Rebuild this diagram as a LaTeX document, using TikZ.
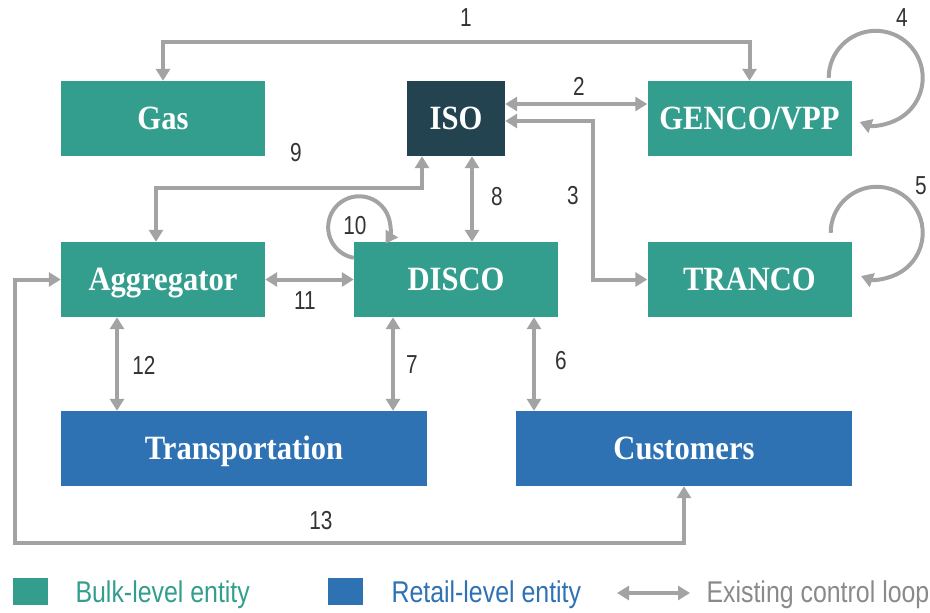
\documentclass[tikz,border=0pt]{standalone}
\usepackage{fontspec}
\usepackage{tikz}
\usepackage{xcolor}
\usetikzlibrary{arrows.meta}

\setmainfont{Liberation Serif}
\newfontfamily\boxfont[FakeStretch=0.9]{Liberation Serif}
\newfontfamily\numfont[FakeStretch=0.8]{Liberation Sans}
\newfontfamily\keyfont[FakeStretch=0.83]{Liberation Sans}

\definecolor{bulk}{HTML}{339E8D}
\definecolor{retail}{HTML}{2E72B3}
\definecolor{isoblue}{HTML}{22434F}
\definecolor{ctrlgray}{HTML}{A3A3A3}
\definecolor{numgray}{HTML}{333333}

\begin{document}
\begin{tikzpicture}[
            x = 1pt, y = -1pt, % pixel grid, y pointing down
            > = {Triangle[length=12pt,width=14pt]}, % arrow head style
            entity/.style = {shape=rectangle, fill=#1, text=white, inner sep=0pt,
                minimum width=204pt, minimum height=75pt,
                font=\boxfont\bfseries\fontsize{34}{40}\selectfont,
                text height=22pt, text depth=0pt},
            ctrl/.style = {draw=ctrlgray, line width=4pt}, % control loop line
            num/.style = {text=numgray, font=\numfont\fontsize{26}{30}\selectfont},
            key/.style = {anchor=base west, font=\keyfont\fontsize{30}{36}\selectfont}
        ]
\useasboundingbox (0,0) rectangle (930,613);

% entities
\node[entity=bulk] (Gas) at (163,118.5) {Gas};
\node[entity=isoblue, minimum width=98pt] (ISO) at (456,118.5) {ISO};
\node[entity=bulk] (GENCO) at (749.5,118.5) {GENCO/VPP};
\node[entity=bulk] (Aggregator) at (163,279.5) {Aggregator};
\node[entity=bulk] (DISCO) at (456,279.5) {DISCO};
\node[entity=bulk] (TRANCO) at (749.5,279.5) {TRANCO};
\node[entity=retail, minimum width=366pt] (Transport) at (244,448.5) {Transportation};
\node[entity=retail, minimum width=336pt] (Customers) at (684,448.5) {Customers};

% control loops
\draw [ctrl, <->] (Gas.north) -- ++(0,-39) -| (GENCO.north);
\draw [ctrl, <->] ([yshift=14.5pt]ISO.east) -- ([yshift=14.5pt]GENCO.west);
\draw [ctrl, <->] ([yshift=-2.5pt]ISO.east) -- ++(88,0) |- (TRANCO.west);
\draw [ctrl, ->] ([xshift=-23pt,yshift=3pt]GENCO.north east) arc[start angle=180, end angle=-110, radius=47pt];
\draw [ctrl, ->] ([xshift=-21pt,yshift=9pt]TRANCO.north east) arc[start angle=180, end angle=-110, radius=46pt];
\draw [ctrl, <->] ([xshift=78pt]DISCO.south) -- ([xshift=78pt]DISCO.south |- Customers.north);
\draw [ctrl, <->] ([xshift=-63pt]DISCO.south) -- ([xshift=-63pt]DISCO.south |- Transport.north);
\draw [ctrl, <->] ([xshift=16pt]ISO.south) -- ([xshift=16pt]DISCO.north);
\draw [ctrl, <->] ([xshift=-7pt]Aggregator.north) -- ++(0,-54) -| ([xshift=-34pt]ISO.south);
\draw [ctrl, ->] ([yshift=-16pt]DISCO.north west) arc[start angle=-100, end angle=-392, radius=31pt];
\draw [ctrl, <->] (Aggregator.east) -- (DISCO.west);
\draw [ctrl, <->] ([xshift=-46pt]Aggregator.south) -- ([xshift=-46pt]Aggregator.south |- Transport.north);
\coordinate (c13) at (15,543);
\draw [ctrl, <->] (Customers.south) |- (c13) |- (Aggregator.west);

% loop numbers
\node[num] (l1) at (466,18) {1};
\node[num] (l2) at (579,86) {2};
\node[num] (l3) at (573,196) {3};
\node[num] (l4) at (902,18) {4};
\node[num] (l5) at (921,186) {5};
\node[num] (l6) at (561,361) {6};
\node[num] (l7) at (412,365) {7};
\node[num] (l8) at (497,197) {8};
\node[num] (l9) at (296,153) {9};
\node[num] (l10) at (355,226) {10};
\node[num] (l11) at (305,301) {11};
\node[num] (l12) at (144,365) {12};
\node[num] (l13) at (321,521) {13};

% legend
\node[fill=bulk, minimum width=35pt, minimum height=27pt, inner sep=0pt] (keyBulk) at (30.5,591.5) {};
\node[key, text=bulk] (txtBulk) at (72,602) {Bulk-level entity};
\node[fill=retail, minimum width=35pt, minimum height=27pt, inner sep=0pt] (keyRetail) at (345.5,591.5) {};
\node[key, text=retail] (txtRetail) at (388,602) {Retail-level entity};
\coordinate (keyL) at (617,593);
\coordinate (keyR) at (690,593);
\draw [ctrl, <->] (keyL) -- (keyR);
\node[key, text=ctrlgray!85!black] (txtCtrl) at (703,602) {Existing control loop};
\end{tikzpicture}
\end{document}
